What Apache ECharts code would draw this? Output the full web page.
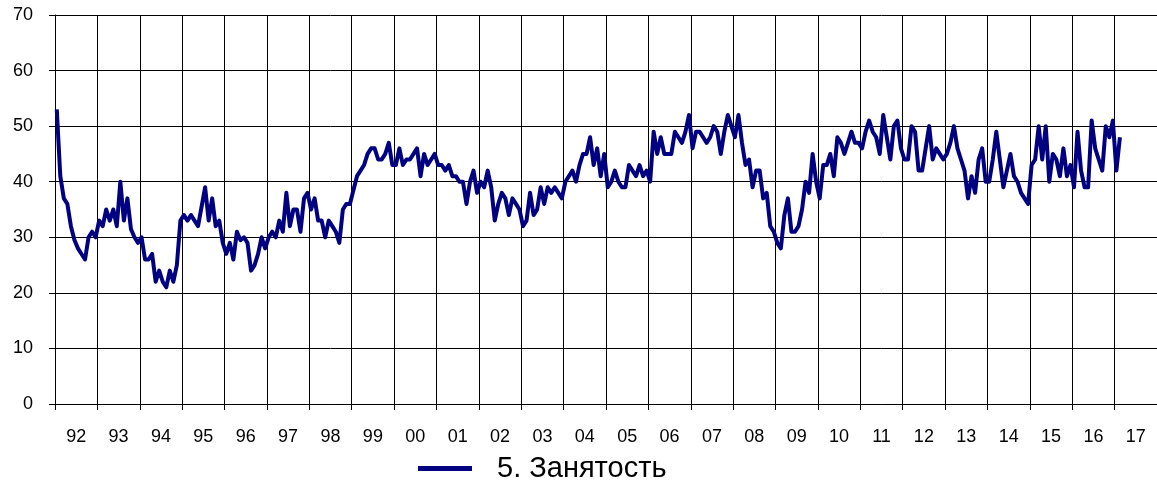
<!DOCTYPE html>
<html>
<head>
<meta charset="utf-8">
<script src="https://cdn.jsdelivr.net/npm/echarts@6/dist/echarts.min.js"></script>
<style>
  html, body { margin: 0; padding: 0; background: #fff; }
  #chart { width: 1157px; height: 483px; }
</style>
</head>
<body>
<div id="chart"></div>
<script>
const years = ['92', '93', '94', '95', '96', '97', '98', '99', '00', '01', '02', '03', '04',
  '05', '06', '07', '08', '09', '10', '11', '12', '13', '14', '15', '16', '17'];

const seriesName = '5. Занятость';

// monthly values, Jan 1992 .. Feb 2017, one row per year
const employment = [
  53, 41, 37, 36, 32, 29.5, 28, 27, 26, 30, 31, 30,
  33, 32, 35, 33, 35, 32, 40, 33, 37, 31.5, 30, 29,
  30, 26, 26, 27, 22, 24, 22, 21, 24, 22, 25, 33,
  34, 33, 34, 33, 32, 35.5, 39, 33, 37, 32, 33, 29,
  27, 29, 26, 31, 29.5, 30, 29, 24, 25, 27, 30, 28,
  30, 31, 30, 33, 31, 38, 32, 35, 35, 31, 37, 38,
  35, 37, 33, 33, 30, 33, 32, 31, 29, 35, 36, 36,
  38.5, 41, 42, 43, 45, 46, 46, 44, 44, 45, 47, 43,
  43, 46, 43, 44, 44, 45, 46, 41, 45, 43, 44, 45,
  43, 43, 42, 43, 41, 41, 40, 40, 36, 40, 42, 38,
  40, 39, 42, 39, 33, 36, 38, 37, 34, 37, 36, 35,
  32, 33, 38, 34, 35, 39, 36, 39, 38, 39, 38, 37,
  40, 41, 42, 40, 43, 45, 45, 48, 43, 46, 41, 45,
  39, 40, 42, 40, 39, 39, 43, 42, 41, 43, 41, 42,
  40, 49, 45, 48, 45, 45, 45, 49, 48, 47, 49, 52,
  46, 49, 49, 48, 47, 48, 50, 49, 45, 49, 52, 50,
  48, 52, 47, 43, 44, 39, 42, 42, 37, 38, 32, 31,
  29, 28, 34, 37, 31, 31, 32, 35, 40, 38, 45, 40,
  37, 43, 43, 45, 41, 48, 47, 45, 47, 49, 47, 47,
  46, 49, 51, 49, 48, 45, 52, 48, 44, 50, 51, 46,
  44, 44, 50, 49, 42, 42, 46, 50, 44, 46, 45, 44,
  45, 47, 50, 46, 44, 42, 37, 41, 38, 44, 46, 40,
  40, 44, 49, 44, 39, 42, 45, 41, 40, 38, 37, 36,
  43, 44, 50, 44, 50, 40, 45, 44, 41, 46, 41, 43,
  39, 49, 42, 39, 39, 51, 46, 44, 42, 50, 48, 51,
  42, 48
];

// hidden month axis: 12 slots per year label
const months = years.flatMap((y) => Array.from({ length: 12 }, (_, m) => y + '-' + (m + 1)));

const font = "'Liberation Sans', Arial, sans-serif";
const chart = echarts.init(document.getElementById('chart'));

chart.setOption({
  animation: false,
  textStyle: { fontFamily: font, color: '#000' },
  grid: { left: 55, right: -1, top: 15, bottom: 79 },
  legend: {
    data: [seriesName],
    left: 413,
    top: 449,
    icon: 'rect',
    itemWidth: 54,
    itemHeight: 5,
    textStyle: { fontFamily: font, fontSize: 29, color: '#000', padding: [0, 0, 0, 20] }
  },
  xAxis: [
    {
      type: 'category',
      data: years,
      boundaryGap: true,
      axisLine: { lineStyle: { color: '#000', width: 1 } },
      axisTick: { show: true, length: 6, interval: 0, lineStyle: { color: '#000' } },
      axisLabel: { interval: 0, margin: 24, fontSize: 18, color: '#000', fontFamily: font },
      splitLine: { show: true, interval: 0, lineStyle: { color: '#000', width: 1 } }
    },
    {
      type: 'category',
      data: months,
      boundaryGap: true,
      show: false
    }
  ],
  yAxis: {
    type: 'value',
    min: 0,
    max: 70,
    interval: 10,
    axisLine: { show: true, lineStyle: { color: '#000', width: 1 } },
    axisTick: { show: true, length: 6, lineStyle: { color: '#000' } },
    axisLabel: { margin: 22, fontSize: 18, color: '#000', fontFamily: font },
    splitLine: { show: true, lineStyle: { color: '#000', width: 1 } }
  },
  series: [
    {
      name: seriesName,
      type: 'line',
      xAxisIndex: 1,
      data: employment,
      showSymbol: false,
      color: '#000080',
      lineStyle: { color: '#000080', width: 4, join: 'round' }
    }
  ]
});
</script>
</body>
</html>
